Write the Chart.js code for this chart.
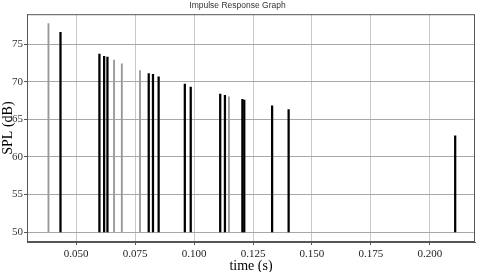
<!DOCTYPE html>
<html>
<head>
    <title>Impulse Response Graph</title>
    <script src="https://cdn.jsdelivr.net/npm/chart.js"></script>
</head>
<body style="margin:0; background-color:white;">
    <div style="width:486px; height:272px;">
        <canvas id="irChart" width="486" height="272"></canvas>
    </div>

    <script>
        // reflections (time in s, level in dB SPL)
        const directTimes = [0.0434, 0.0599, 0.0619, 0.0633, 0.0808, 0.0826, 0.0850, 0.0961, 0.0986,
                             0.1111, 0.1131, 0.1205, 0.1213, 0.1331, 0.1401, 0.2107];
        const directSpl   = [76.6, 73.7, 73.4, 73.3, 71.1, 71.0, 70.65, 69.7, 69.3,
                             68.35, 68.2, 67.65, 67.55, 66.8, 66.3, 62.8];
        const grayTimes = [0.0383, 0.0661, 0.0694, 0.0771, 0.1148];
        const graySpl   = [77.75, 72.9, 72.4, 71.5, 68.0];

        const xTicksMin = 0.0292, xTicksMax = 0.2191;
        const splMin = 48.67, splMax = 79.0, splBase = 50;

        function toPoints(times, spl) {
            return times.map((t, i) => ({ x: t, y: [splBase, spl[i]] }));
        }

        // chart.js only draws the left/bottom axis lines, box the rest
        const frame = {
            id: 'frame',
            afterDraw(chart) {
                const a = chart.chartArea, ctx = chart.ctx;
                ctx.save();
                ctx.strokeStyle = '#555';
                ctx.lineWidth = 1;
                ctx.strokeRect(a.left + 0.5, a.top + 0.5, a.right - a.left - 1, a.bottom - a.top - 1);
                ctx.restore();
            }
        };

        new Chart(document.getElementById('irChart'), {
            type: 'bar',
            data: {
                datasets: [
                    { label: 'gray', data: toPoints(grayTimes, graySpl), backgroundColor: '#999', barThickness: 1.2 },
                    { label: 'direct', data: toPoints(directTimes, directSpl), backgroundColor: '#000', barThickness: 1.6 }
                ]
            },
            options: {
                responsive: false,
                animation: false,
                grouped: false,
                layout: { padding: { right: 11, top: 0, left: 0, bottom: 0 } },
                plugins: {
                    legend: { display: false },
                    tooltip: { enabled: false },
                    title: {
                        display: true,
                        text: 'Impulse Response Graph',
                        color: '#333',
                        font: { family: 'Liberation Sans', size: 8.5, weight: 'normal' },
                        padding: { top: 1, bottom: 3 }
                    }
                },
                scales: {
                    x: {
                        type: 'linear',
                        offset: false,
                        min: xTicksMin,
                        max: xTicksMax,
                        grid: { color: '#c8c8c8', tickColor: '#555', tickLength: 3, offset: false },
                        border: { color: '#555' },
                        ticks: {
                            stepSize: 0.025,
                            includeBounds: false,
                            padding: 3,
                            color: '#222',
                            maxRotation: 0,
                            font: { family: 'Liberation Serif', size: 11 },
                            callback: v => v.toFixed(3)
                        },
                        title: {
                            display: true,
                            text: 'time (s)',
                            color: '#000',
                            font: { family: 'Liberation Serif', size: 14 },
                            padding: { top: 0, bottom: -3 }
                        },
                        afterFit: s => { s.height = 30; }
                    },
                    y: {
                        min: splMin,
                        max: splMax,
                        grid: { color: '#a8a8a8', tickColor: '#555', tickLength: 3 },
                        border: { color: '#555' },
                        ticks: {
                            stepSize: 5,
                            includeBounds: false,
                            padding: 1,
                            color: '#333',
                            font: { family: 'Liberation Serif', size: 11 }
                        },
                        title: {
                            display: true,
                            text: 'SPL (dB)',
                            color: '#000',
                            font: { family: 'Liberation Serif', size: 14 },
                            padding: { top: 0, bottom: 0 }
                        },
                        afterFit: s => { s.width = 27; }
                    }
                }
            },
            plugins: [frame]
        });
    </script>
</body>
</html>
